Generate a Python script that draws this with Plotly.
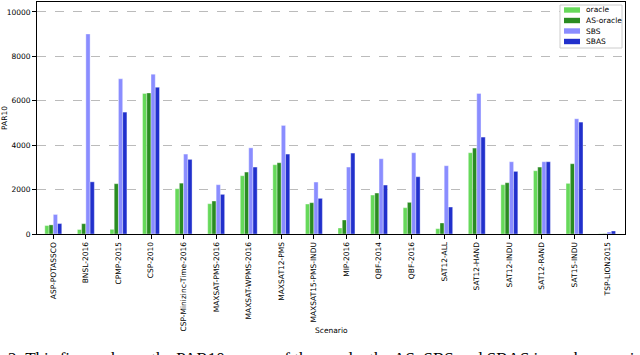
import plotly.graph_objects as go

scenarios = ["ASP-POTASSCO", "BNSL-2016", "CPMP-2015", "CSP-2010", "CSP-Minizinc-Time-2016",
             "MAXSAT-PMS-2016", "MAXSAT-WPMS-2016", "MAXSAT12-PMS", "MAXSAT15-PMS-INDU",
             "MIP-2016", "QBF-2014", "QBF-2016", "SAT12-ALL", "SAT12-HAND", "SAT12-INDU",
             "SAT12-RAND", "SAT15-INDU", "TSP-LION2015"]
oracle = [380, 200, 210, 6330, 2040, 1365, 2625, 3120, 1350, 270, 1755, 1185, 240, 3660, 2220, 2850, 2280, 10]
as_oracle = [410, 465, 2265, 6355, 2290, 1485, 2790, 3210, 1410, 630, 1845, 1425, 495, 3870, 2310, 3015, 3165, 15]
sbs = [880, 9010, 6990, 7200, 3600, 2220, 3880, 4890, 2340, 3015, 3390, 3660, 3075, 6330, 3255, 3255, 5190, 90]
sbas = [470, 2350, 5490, 6610, 3360, 1785, 3015, 3600, 1605, 3645, 2205, 2580, 1215, 4365, 2820, 3255, 5040, 135]
yticks = [0, 2000, 4000, 6000, 8000, 10000]
series_names = ["oracle", "AS-oracle", "SBS", "SBAS"]
series_colors = ["#66d95a", "#2a8c22", "#8a8dff", "#2130cc"]

W, H = 640, 355
L, R, T, B = 37, 15, 2, 121
PW, PH = W - L - R, H - T - B


def px(x):
    return (x - L) / PW


def py(y):
    return (H - B - y) / PH


fig = go.Figure()
for name, vals, col in zip(series_names, [oracle, as_oracle, sbs, sbas], series_colors):
    fig.add_trace(go.Bar(x=scenarios, y=vals, name=name, marker_color=col,
                         marker_line=dict(color="rgba(255,255,255,0.6)", width=0.6)))

fig.update_layout(
    width=W, height=H,
    margin=dict(l=L, r=R, t=T, b=B),
    paper_bgcolor="white", plot_bgcolor="white",
    barmode="group", bargap=0.48, bargroupgap=0,
    font=dict(family="DejaVu Sans", size=8, color="black"),
    showlegend=False,
    xaxis=dict(range=[-0.5, 17.55], tickangle=-90, ticks="outside", ticklen=4,
               tickcolor="black", tickfont=dict(size=7.5), showline=True,
               linecolor="black", linewidth=1, mirror=True, showgrid=False,
               automargin=False),
    yaxis=dict(range=[0, 10450], tickvals=yticks, tickformat="d", ticks="outside", ticklen=4,
               tickcolor="black", tickfont=dict(size=7.5), showline=True,
               linecolor="black", linewidth=1, mirror=True,
               showgrid=True, gridcolor="#bbbbbb", griddash="dash", gridwidth=1,
               zeroline=False, automargin=False,
               title=dict(text="PAR10", font=dict(size=7.5), standoff=6)),
)

fig.add_annotation(text="Scenario", xref="paper", yref="paper", x=px(331), y=py(330),
                   xanchor="center", yanchor="middle", showarrow=False,
                   font=dict(size=7.5, color="black"))

# compact legend box (matplotlib style)
fig.add_shape(type="rect", xref="paper", yref="paper",
              x0=px(560), x1=px(622), y0=py(48), y1=py(5),
              fillcolor="white", line=dict(color="#cccccc", width=1), layer="above")
item_y = [10, 20.5, 31, 41.5]
for name, col, yy in zip(series_names, series_colors, item_y):
    fig.add_shape(type="rect", xref="paper", yref="paper",
                  x0=px(564), x1=px(580), y0=py(yy + 2.7), y1=py(yy - 2.7),
                  fillcolor=col, line=dict(width=0), layer="above")
    fig.add_annotation(text=name, xref="paper", yref="paper", x=px(584), y=py(yy),
                       xanchor="left", yanchor="middle", showarrow=False,
                       font=dict(size=7.5, color="black"))

fig.add_annotation(text="2: This figure shows the PAR10 scores of the oracle, the AS, SBS and SBAS in each scenario",
                   xref="paper", yref="paper", x=px(6), y=py(347), xanchor="left", yanchor="top",
                   showarrow=False, align="left",
                   font=dict(family="Liberation Serif", size=17, color="black"))

fig.write_html("out.html", config={"displayModeBar": False},
               post_script="document.body.style.margin='0';document.body.style.overflow='hidden';")
